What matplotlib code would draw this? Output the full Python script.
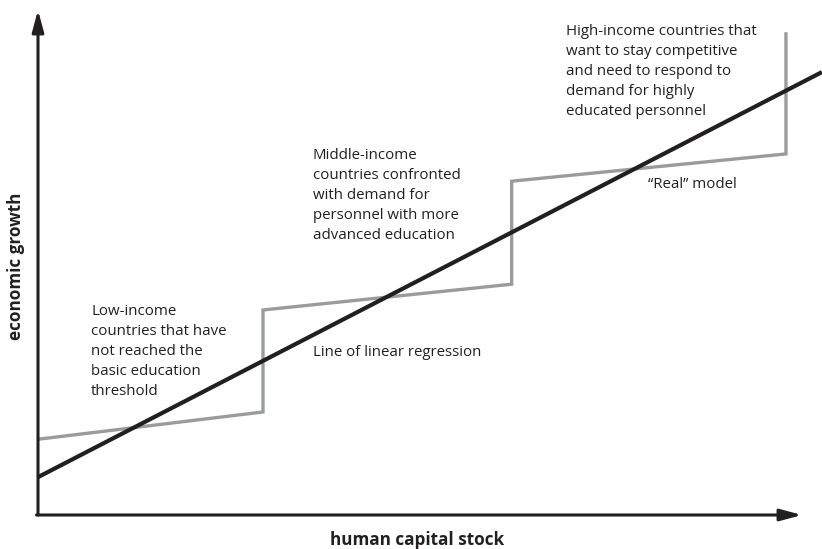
import matplotlib
matplotlib.use("Agg")
from matplotlib import pyplot as plt

plt.rcParams['font.family'] = ['Open Sans', 'DejaVu Sans']

# "real" step model (x: human capital stock, y: economic growth, 0-100 scale)
real_x = [0, 29.45, 29.45, 62.0, 62.0, 97.9, 97.9]
real_y = [15.0, 20.4, 40.6, 45.7, 66.1, 71.5, 95.6]

# line of linear regression
reg_x = [0, 102.6]
reg_y = [7.5, 87.7]

notes = [
    "Low-income\ncountries that have\nnot reached the\nbasic education\nthreshold",
    "Middle-income\ncountries confronted\nwith demand for\npersonnel with more\nadvanced education",
    "High-income countries that\nwant to stay competitive\nand need to respond to\ndemand for highly\neducated personnel",
]

W, H = 822, 549
fig = plt.figure(figsize=(W / 100, H / 100), dpi=100)
# axes box: origin at pixel (38, 515), arrow tips at (802, 10)
ax = fig.add_axes([38 / W, (H - 515) / H, (802 - 38) / W, (515 - 10) / H])
ax.set_xlim(0, 100)
ax.set_ylim(0, 100)
ax.axis("off")

ink = "#231f20"
grey = "#9a9b9d"

ax.plot(real_x, real_y, color=grey, lw=2.4, solid_joinstyle="miter",
        solid_capstyle="butt", clip_on=False, zorder=2)
ax.plot(reg_x, reg_y, color=ink, lw=3.0, solid_capstyle="butt",
        clip_on=False, zorder=3)

# axes drawn as arrows
arrow = dict(arrowstyle="-|>,head_length=1.3,head_width=0.35", color=ink,
             lw=2.2, shrinkA=0, shrinkB=0)
ax.annotate("", xy=(0, 1), xytext=(0, 0), xycoords="axes fraction",
            arrowprops=arrow)
ax.annotate("", xy=(1, 0), xytext=(-0.002, 0), xycoords="axes fraction",
            arrowprops=arrow)

def px(x, y):
    return x / W, 1 - y / H

fs = 10.8
ls = 1.46
fig.text(*px(91, 304), notes[0], fontsize=fs, va="top", ha="left",
         linespacing=ls, color=ink)
fig.text(*px(313, 148), notes[1], fontsize=fs, va="top", ha="left",
         linespacing=ls, color=ink)
fig.text(*px(566, 24), notes[2], fontsize=fs, va="top", ha="left",
         linespacing=ls, color=ink)
fig.text(*px(313, 352), "Line of linear regression", fontsize=fs,
         va="center", ha="left", color=ink)
fig.text(*px(648, 185), "\u201cReal\u201d model", fontsize=fs,
         va="center", ha="left", color=ink)

fig.text(*px(417, 540), "human capital stock", fontsize=12.3,
         fontweight="bold", va="center", ha="center", color=ink)
fig.text(*px(16, 266), "economic growth", fontsize=12.3, fontweight="bold",
         va="center", ha="center", rotation=90, color=ink)

fig.savefig("out.png", dpi=100)
